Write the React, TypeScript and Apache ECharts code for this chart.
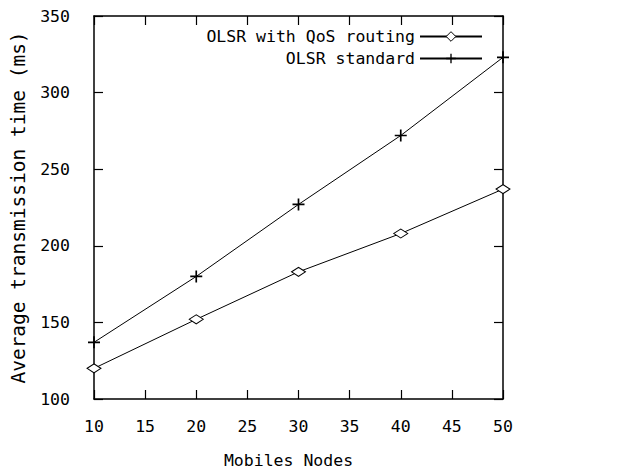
import React, { useEffect, useRef } from "react";
import * as echarts from "echarts";

const nodes = [10, 20, 30, 40, 50];
const qosValues = [120, 152, 183, 208, 237];
const standardValues = [137, 180, 227, 272, 323];
const seriesNames = ["OLSR with QoS routing", "OLSR standard"];

const FONT = "DejaVu Sans Mono";
const PLUS = "path://M0,4.3h10v1.4h-10z M4.3,0h1.4v10h-1.4z";

export default function App() {
  const ref = useRef<HTMLDivElement>(null);
  useEffect(() => {
    if (!ref.current) return;
    const chart = echarts.init(ref.current, undefined, { renderer: "svg" });
    const axisLine = { show: true, lineStyle: { color: "#000", width: 1.5 } };
    const tick = { show: true, inside: true, length: 9, lineStyle: { color: "#000", width: 1.2 } };
    const label = { color: "#000", fontFamily: FONT, fontSize: 16.5 };
    const legendBase = {
      orient: "vertical",
      align: "right",
      right: 141,
      padding: 0,
      itemWidth: 62,
      itemHeight: 12,
      textStyle: { color: "#000", fontFamily: FONT, fontSize: 16.5 },
    };
    chart.setOption({
      animation: false,
      backgroundColor: "#fff",
      grid: { left: 93, right: 121, top: 16, bottom: 73 },
      legend: [
        { ...legendBase, data: [seriesNames[0]], top: 28, itemStyle: { borderWidth: 1 } },
        { ...legendBase, data: [seriesNames[1]], top: 50 },
      ],
      xAxis: [
        {
          type: "value",
          min: 10,
          max: 50,
          interval: 5,
          position: "bottom",
          name: "Mobiles Nodes",
          nameLocation: "middle",
          nameGap: 53,
          nameTextStyle: { color: "#000", fontFamily: FONT, fontSize: 16.5, padding: [0, 20, 0, 0] },
          axisLine,
          axisTick: tick,
          axisLabel: { ...label, margin: 19 },
          splitLine: { show: false },
        },
        {
          type: "value",
          min: 10,
          max: 50,
          interval: 5,
          position: "top",
          axisLine,
          axisTick: tick,
          axisLabel: { show: false },
          splitLine: { show: false },
        },
      ],
      yAxis: [
        {
          type: "value",
          min: 100,
          max: 350,
          interval: 50,
          position: "left",
          name: "Average transmission time (ms)",
          nameLocation: "middle",
          nameGap: 66,
          nameTextStyle: { color: "#000", fontFamily: FONT, fontSize: 19.5 },
          axisLine,
          axisTick: tick,
          axisLabel: { ...label, margin: 24 },
          splitLine: { show: false },
        },
        {
          type: "value",
          min: 100,
          max: 350,
          interval: 50,
          position: "right",
          axisLine,
          axisTick: tick,
          axisLabel: { show: false },
          splitLine: { show: false },
        },
      ],
      series: [
        {
          name: seriesNames[0],
          type: "line",
          data: nodes.map((n, i) => [n, qosValues[i]]),
          symbol: "diamond",
          symbolSize: [14, 9],
          showAllSymbol: true,
          lineStyle: { color: "#000", width: 1 },
          itemStyle: { color: "#fff", borderColor: "#000", borderWidth: 1 },
        },
        {
          name: seriesNames[1],
          type: "line",
          data: nodes.map((n, i) => [n, standardValues[i]]),
          symbol: PLUS,
          symbolSize: 12,
          showAllSymbol: true,
          lineStyle: { color: "#000", width: 1 },
          itemStyle: { color: "#000", borderWidth: 0 },
        },
      ],
    });
    return () => chart.dispose();
  }, []);
  return <div ref={ref} style={{ width: 624, height: 474, position: "absolute", left: 0, top: 0 }} />;
}
